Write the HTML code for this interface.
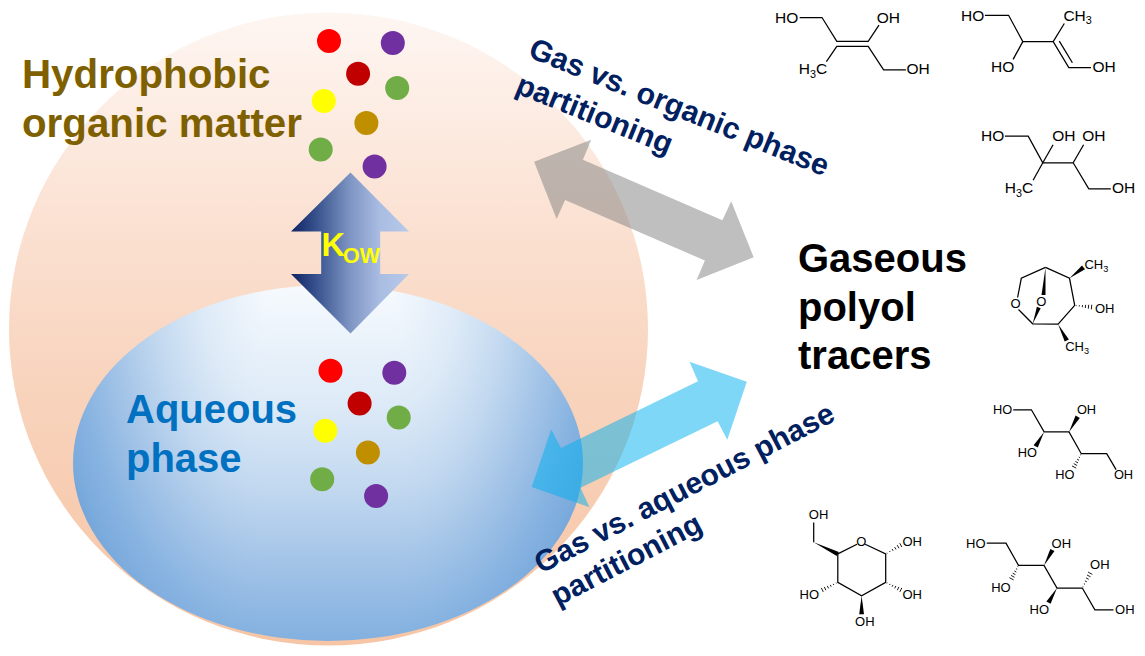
<!DOCTYPE html>
<html><head><meta charset="utf-8">
<style>
html,body{margin:0;padding:0;background:#fff;width:1145px;height:656px;overflow:hidden}
svg{display:block}
text{font-family:"Liberation Sans",sans-serif}
</style></head><body>
<svg width="1145" height="656" viewBox="0 0 1145 656">
<defs>
<linearGradient id="peach" x1="0" y1="0" x2="0" y2="1">
<stop offset="0" stop-color="#FEF6F2"/>
<stop offset="0.3" stop-color="#FBE3D5"/>
<stop offset="0.6" stop-color="#F8D3BC"/>
<stop offset="1" stop-color="#F6C5A5"/>
</linearGradient>
<radialGradient id="aqL" gradientUnits="userSpaceOnUse" cx="270" cy="285" r="400" gradientTransform="translate(270 285) scale(0.5750 1) translate(-270 -285)">
<stop offset="0" stop-color="#F6FAFE"/>
<stop offset="0.3" stop-color="#DDEAF7"/>
<stop offset="0.5" stop-color="#C3D9F0"/>
<stop offset="0.7" stop-color="#A2C3E7"/>
<stop offset="0.86" stop-color="#87B3E1"/>
<stop offset="0.95" stop-color="#7CABDD"/>
<stop offset="1" stop-color="#76A6DA"/>
</radialGradient>
<radialGradient id="aqR" gradientUnits="userSpaceOnUse" cx="390" cy="285" r="400" gradientTransform="translate(390 285) scale(0.5750 1) translate(-390 -285)">
<stop offset="0" stop-color="#F6FAFE"/>
<stop offset="0.3" stop-color="#DDEAF7"/>
<stop offset="0.5" stop-color="#C3D9F0"/>
<stop offset="0.7" stop-color="#A2C3E7"/>
<stop offset="0.86" stop-color="#87B3E1"/>
<stop offset="0.95" stop-color="#7CABDD"/>
<stop offset="1" stop-color="#76A6DA"/>
</radialGradient>
<linearGradient id="aqM" gradientUnits="userSpaceOnUse" x1="0" y1="285" x2="0" y2="685">
<stop offset="0" stop-color="#F6FAFE"/>
<stop offset="0.3" stop-color="#DDEAF7"/>
<stop offset="0.5" stop-color="#C3D9F0"/>
<stop offset="0.7" stop-color="#A2C3E7"/>
<stop offset="0.86" stop-color="#87B3E1"/>
<stop offset="0.95" stop-color="#7CABDD"/>
<stop offset="1" stop-color="#76A6DA"/>
</linearGradient>
<clipPath id="aqclip"><ellipse cx="328" cy="463" rx="255" ry="178"/></clipPath>
<linearGradient id="kow" gradientUnits="userSpaceOnUse" x1="291" y1="0" x2="409" y2="0">
<stop offset="0" stop-color="#0E2364"/>
<stop offset="0.25" stop-color="#3F5A94"/>
<stop offset="0.5" stop-color="#7E95C3"/>
<stop offset="0.75" stop-color="#A9BCE2"/>
<stop offset="1" stop-color="#B8C9E9"/>
</linearGradient>
</defs>
<ellipse cx="328.5" cy="329" rx="319.5" ry="316.5" fill="url(#peach)"/>
<g clip-path="url(#aqclip)" shape-rendering="crispEdges">
<rect x="0" y="270" width="270" height="390" fill="url(#aqL)"/>
<rect x="270" y="270" width="120" height="390" fill="url(#aqM)"/>
<rect x="390" y="270" width="310" height="390" fill="url(#aqR)"/>
</g>
<!-- dots top -->
<g id="dots">
<circle cx="329" cy="41" r="12" fill="#FF0000"/>
<circle cx="392.8" cy="43.1" r="12" fill="#7030A0"/>
<circle cx="358.1" cy="73.7" r="12" fill="#C00000"/>
<circle cx="397.2" cy="87.9" r="12" fill="#70AD47"/>
<circle cx="323.8" cy="101.1" r="12" fill="#FFFF00"/>
<circle cx="366.4" cy="122.9" r="12" fill="#BF8F00"/>
<circle cx="320.7" cy="149.6" r="12" fill="#70AD47"/>
<circle cx="374.6" cy="166.4" r="12" fill="#7030A0"/>
</g>
<use href="#dots" transform="translate(1.5,329.7)"/>
<!-- Kow arrow -->
<path d="M350.5 172.4 L409 231.4 L380.2 231.4 L380.2 274 L409 274 L350.5 333.5 L291 274 L321.2 274 L321.2 231.4 L291 231.4 Z" fill="url(#kow)"/>
<text x="321.6" y="256" font-size="32.5" font-weight="bold" fill="#FFFF00">K</text>
<text x="343" y="262.6" font-size="21.5" font-weight="bold" fill="#FFFF00">OW</text>
<!-- gray arrow -->
<path d="M534.1 161.7 L591.2 139.8 L582.9 159.8 L722.4 220.2 L731.2 201.2 L753.7 257.3 L696.6 280 L704.9 260.5 L565.1 200 L556.6 219 Z" fill="#808080" fill-opacity="0.5"/>
<!-- blue arrow -->
<path d="M746.8 381.7 L689.5 361.7 L698 381.2 L561 448 L551.2 429.3 L531.7 487 L589.5 507.3 L580.5 487.8 L717.6 421.2 L727.3 439.8 Z" fill="#00B0F0" fill-opacity="0.5"/>
<!-- labels -->
<text x="22" y="88" font-size="40.3" font-weight="bold" fill="#7F6000">Hydrophobic</text>
<text x="22" y="137" font-size="40.3" font-weight="bold" fill="#7F6000">organic matter</text>
<text x="126" y="422.5" font-size="40" font-weight="bold" fill="#0070C0">Aqueous</text>
<text x="126" y="472" font-size="40" font-weight="bold" fill="#0070C0">phase</text>
<text x="798" y="272" font-size="40" font-weight="bold" fill="#000">Gaseous</text>
<text x="798" y="321" font-size="40" font-weight="bold" fill="#000">polyol</text>
<text x="798" y="368.5" font-size="40" font-weight="bold" fill="#000">tracers</text>
<!-- rotated labels -->
<g transform="translate(527,56.5) rotate(22)" font-size="30.2" font-weight="bold" fill="#002060">
<text x="0" y="0">Gas vs. organic phase</text>
<text x="1.3" y="38.2">partitioning</text>
</g>
<g transform="translate(541,574) rotate(-27.5)" font-size="30" font-weight="bold" fill="#002060">
<text x="0" y="0">Gas vs. aqueous phase</text>
<text x="0" y="36.5">partitioning</text>
</g>
<g id="mols" fill="#000">
<text x="775.0" y="22.7" font-size="15.5">HO</text>
<path d="M799.7 17.5 L822.0 17.5 L836.8 41.3 L868.2 41.3 L879.0 25.2" fill="none" stroke="#000" stroke-width="1.25" stroke-linejoin="miter"/>
<text x="876.7" y="22.7" font-size="15.5">OH</text>
<path d="M826.4 61.6 L836.8 46.4 L868.2 46.4 L883.6 69.8 L905.9 69.8" fill="none" stroke="#000" stroke-width="1.25" stroke-linejoin="miter"/>
<text x="798.8" y="74.2" font-size="15.5">H<tspan font-size="10.8" dy="3.9">3</tspan><tspan dy="-3.9">C</tspan></text>
<text x="906.4" y="74.2" font-size="15.5">OH</text>
<text x="961.0" y="20.5" font-size="15.5">HO</text>
<path d="M984.9 15.3 L1008.6 15.3 L1022.8 41.6 L1053.2 41.6 L1068.8 67.6 L1091.0 67.6" fill="none" stroke="#000" stroke-width="1.25" stroke-linejoin="miter"/>
<path d="M1053.2 41.6 L1064.3 23.5" fill="none" stroke="#000" stroke-width="1.25" stroke-linejoin="miter"/>
<text x="1063.4" y="20.5" font-size="15.5">CH<tspan font-size="10.8" dy="3.9">3</tspan><tspan dy="-3.9"></tspan></text>
<path d="M1022.8 41.6 L1013.1 59.4" fill="none" stroke="#000" stroke-width="1.25" stroke-linejoin="miter"/>
<text x="991.0" y="72.0" font-size="15.5">HO</text>
<path d="M1059.3 41.1 L1072.4 62.7" fill="none" stroke="#000" stroke-width="1.25" stroke-linejoin="miter"/>
<text x="1092.4" y="72.0" font-size="15.5">OH</text>
<text x="981.0" y="141.4" font-size="15.5">HO</text>
<path d="M1004.9 136.2 L1028.2 136.2 L1042.8 162.8 L1073.2 162.8 L1088.8 188.8 L1110.8 188.8" fill="none" stroke="#000" stroke-width="1.25" stroke-linejoin="miter"/>
<path d="M1042.8 162.8 L1053.1 144.7" fill="none" stroke="#000" stroke-width="1.25" stroke-linejoin="miter"/>
<text x="1052.2" y="141.4" font-size="15.5">OH</text>
<path d="M1073.2 162.8 L1083.6 144.7" fill="none" stroke="#000" stroke-width="1.25" stroke-linejoin="miter"/>
<text x="1082.2" y="141.4" font-size="15.5">OH</text>
<path d="M1042.8 162.8 L1033.1 180.3" fill="none" stroke="#000" stroke-width="1.25" stroke-linejoin="miter"/>
<text x="1004.7" y="193.0" font-size="15.5">H<tspan font-size="10.8" dy="3.9">3</tspan><tspan dy="-3.9">C</tspan></text>
<text x="1111.9" y="193.0" font-size="15.5">OH</text>
<path d="M1045.5 267.4 L1021.3 278.3 L1017.6 297.5" fill="none" stroke="#000" stroke-width="1.25" stroke-linejoin="miter"/>
<path d="M1018.5 309.5 L1032.7 323.8 L1058.1 324.2 L1074.7 305.4 L1069.5 278.3 L1045.5 267.4" fill="none" stroke="#000" stroke-width="1.25" stroke-linejoin="miter"/>
<text x="1010.5" y="308.1" font-size="13">O</text>
<text x="1036.2" y="305.8" font-size="13">O</text>
<path d="M1045.5 267.4 L1041.5 294.9 L1045.5 295.1 Z" fill="#000"/>
<path d="M1032.7 323.8 L1040.7 308.2 L1036.9 306.8 Z" fill="#000"/>
<path d="M1069.5 278.3 L1085.0 269.3 L1082.0 265.5 Z" fill="#000"/>
<text x="1084.4" y="268.7" font-size="13">CH<tspan font-size="9.1" dy="3.2">3</tspan><tspan dy="-3.2"></tspan></text>
<path d="M1076.2 305.9 L1076.3 305.2" stroke="#000" stroke-width="0.9"/>
<path d="M1079.2 306.5 L1079.4 305.2" stroke="#000" stroke-width="0.9"/>
<path d="M1082.3 307.2 L1082.5 305.1" stroke="#000" stroke-width="0.9"/>
<path d="M1085.3 308.0 L1085.6 304.9" stroke="#000" stroke-width="0.9"/>
<path d="M1088.3 308.7 L1088.7 304.8" stroke="#000" stroke-width="0.9"/>
<path d="M1091.3 309.4 L1091.8 304.7" stroke="#000" stroke-width="0.9"/>
<text x="1094.9" y="313.3" font-size="13">OH</text>
<path d="M1058.1 324.2 L1064.7 341.6 L1068.9 339.4 Z" fill="#000"/>
<text x="1065.2" y="351.0" font-size="13">CH<tspan font-size="9.1" dy="3.2">3</tspan><tspan dy="-3.2"></tspan></text>
<text x="992.9" y="414.1" font-size="12.8">HO</text>
<path d="M1013.2 409.8 L1031.4 409.8 L1044.1 431.9 L1069.0 431.9 L1081.3 453.7 L1106.7 453.7 L1116.1 469.6" fill="none" stroke="#000" stroke-width="1.25" stroke-linejoin="miter"/>
<path d="M1044.1 431.9 L1033.6 445.2 L1037.8 447.6 Z" fill="#000"/>
<text x="1017.8" y="457.3" font-size="12.8">HO</text>
<path d="M1069.0 431.9 L1079.8 417.9 L1075.6 415.5 Z" fill="#000"/>
<text x="1076.9" y="414.1" font-size="12.8">OH</text>
<path d="M1080.3 454.7 L1081.0 455.1" stroke="#000" stroke-width="0.9"/>
<path d="M1078.8 457.0 L1079.9 457.6" stroke="#000" stroke-width="0.9"/>
<path d="M1077.1 459.2 L1079.0 460.3" stroke="#000" stroke-width="0.9"/>
<path d="M1075.4 461.4 L1078.0 462.9" stroke="#000" stroke-width="0.9"/>
<path d="M1073.7 463.6 L1077.1 465.5" stroke="#000" stroke-width="0.9"/>
<path d="M1072.0 465.9 L1076.2 468.1" stroke="#000" stroke-width="0.9"/>
<text x="1055.2" y="479.0" font-size="12.8">HO</text>
<text x="1113.9" y="479.0" font-size="12.8">OH</text>
<path d="M837.8 553.9 L857.0 544.3" fill="none" stroke="#000" stroke-width="1.25" stroke-linejoin="miter"/>
<path d="M865.2 544.3 L885.7 553.9 L885.7 582.4 L861.6 595.7 L837.8 582.4 L837.8 553.9" fill="none" stroke="#000" stroke-width="1.25" stroke-linejoin="miter"/>
<text x="856.2" y="546.2" font-size="13">O</text>
<path d="M813.7 542.2 L836.8 555.9 L838.8 551.9 Z" fill="#000"/>
<path d="M813.7 542.2 L813.7 522.6" fill="none" stroke="#000" stroke-width="1.25" stroke-linejoin="miter"/>
<text x="808.8" y="519.0" font-size="13">OH</text>
<path d="M887.3 553.4 L886.9 552.8" stroke="#000" stroke-width="0.9"/>
<path d="M890.1 552.0 L889.5 551.0" stroke="#000" stroke-width="0.9"/>
<path d="M893.1 550.8 L892.1 549.0" stroke="#000" stroke-width="0.9"/>
<path d="M896.0 549.5 L894.6 547.1" stroke="#000" stroke-width="0.9"/>
<path d="M899.0 548.3 L897.2 545.1" stroke="#000" stroke-width="0.9"/>
<path d="M901.9 547.0 L899.7 543.2" stroke="#000" stroke-width="0.9"/>
<text x="902.4" y="545.7" font-size="13">OH</text>
<path d="M886.9 583.4 L887.3 582.7" stroke="#000" stroke-width="0.9"/>
<path d="M889.6 585.0 L890.1 583.9" stroke="#000" stroke-width="0.9"/>
<path d="M892.1 586.7 L893.0 584.9" stroke="#000" stroke-width="0.9"/>
<path d="M894.7 588.4 L895.9 585.9" stroke="#000" stroke-width="0.9"/>
<path d="M897.3 590.2 L898.9 586.9" stroke="#000" stroke-width="0.9"/>
<path d="M899.8 591.9 L901.8 587.9" stroke="#000" stroke-width="0.9"/>
<text x="902.4" y="599.2" font-size="13">OH</text>
<path d="M836.2 582.7 L836.6 583.4" stroke="#000" stroke-width="0.9"/>
<path d="M833.3 583.9 L833.8 585.0" stroke="#000" stroke-width="0.9"/>
<path d="M830.3 584.9 L831.2 586.7" stroke="#000" stroke-width="0.9"/>
<path d="M827.3 585.9 L828.6 588.4" stroke="#000" stroke-width="0.9"/>
<path d="M824.3 586.9 L825.9 590.2" stroke="#000" stroke-width="0.9"/>
<path d="M821.3 587.9 L823.3 591.9" stroke="#000" stroke-width="0.9"/>
<text x="799.5" y="599.2" font-size="13">HO</text>
<path d="M861.6 595.7 L859.2 614.3 L864.0 614.3 Z" fill="#000"/>
<text x="855.1" y="626.0" font-size="13">OH</text>
<text x="966.0" y="547.6" font-size="13">HO</text>
<path d="M986.7 543.1 L1006.0 543.1 L1018.5 565.4 L1044.0 565.4 L1057.0 588.0 L1082.3 588.0 L1094.9 609.8 L1113.5 609.8" fill="none" stroke="#000" stroke-width="1.25" stroke-linejoin="miter"/>
<path d="M1017.5 566.4 L1018.2 566.8" stroke="#000" stroke-width="0.9"/>
<path d="M1016.0 568.7 L1017.2 569.4" stroke="#000" stroke-width="0.9"/>
<path d="M1014.4 571.0 L1016.3 572.0" stroke="#000" stroke-width="0.9"/>
<path d="M1012.7 573.2 L1015.4 574.6" stroke="#000" stroke-width="0.9"/>
<path d="M1011.1 575.4 L1014.5 577.3" stroke="#000" stroke-width="0.9"/>
<path d="M1009.4 577.7 L1013.6 579.9" stroke="#000" stroke-width="0.9"/>
<text x="991.2" y="592.0" font-size="13">HO</text>
<path d="M1044.0 565.4 L1054.5 551.1 L1050.3 548.9 Z" fill="#000"/>
<text x="1051.6" y="547.6" font-size="13">OH</text>
<path d="M1057.0 588.0 L1046.4 601.4 L1050.6 603.8 Z" fill="#000"/>
<text x="1029.5" y="614.4" font-size="13">HO</text>
<path d="M1083.4 586.8 L1082.7 586.5" stroke="#000" stroke-width="0.9"/>
<path d="M1085.0 584.3 L1083.9 583.7" stroke="#000" stroke-width="0.9"/>
<path d="M1086.8 581.8 L1084.9 580.8" stroke="#000" stroke-width="0.9"/>
<path d="M1088.7 579.3 L1086.0 577.9" stroke="#000" stroke-width="0.9"/>
<path d="M1090.5 576.8 L1087.0 575.0" stroke="#000" stroke-width="0.9"/>
<path d="M1092.3 574.4 L1088.1 572.1" stroke="#000" stroke-width="0.9"/>
<text x="1090.1" y="569.4" font-size="13">OH</text>
<text x="1115.1" y="614.4" font-size="13">OH</text>
</g>
</svg>
</body></html>
